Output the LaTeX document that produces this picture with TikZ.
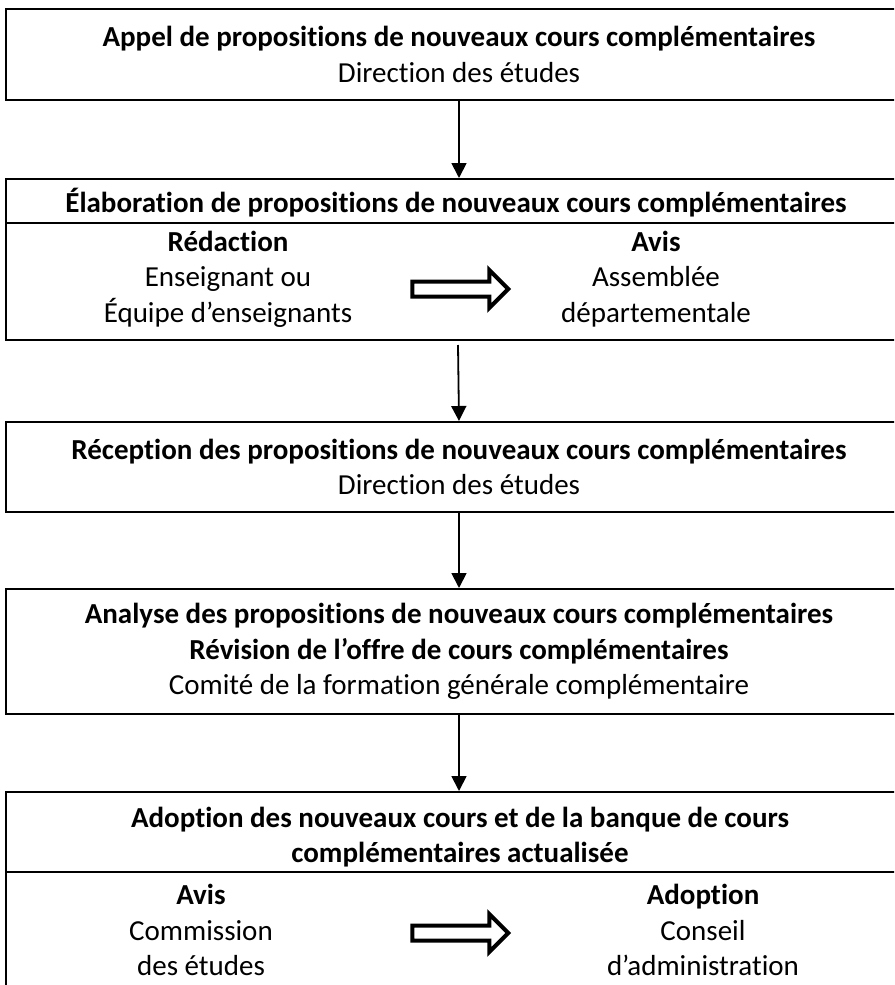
\documentclass[tikz,border=0pt]{standalone}
\usepackage{fontspec}
\setmainfont{Carlito}[Ligatures={TeX,NoCommon}]
\usetikzlibrary{arrows.meta,shapes.arrows}

\tikzset{txt/.style={font=\fontsize{14.5}{17.7}\selectfont,inner sep=0pt,align=center}}
\tikzset{stepbox/.style={draw,line width=1pt,minimum width=453pt,inner sep=0pt}}
\tikzset{flow/.style={line width=0.9pt,-{Triangle[length=7.5pt,width=7.5pt]}}}
\tikzset{fatarrow/.style={draw,line width=2pt,single arrow,inner xsep=0pt,inner ysep=2.75pt,
  minimum height=48pt,single arrow head extend=5.75pt}}
\newcommand{\passarrow}[2]{\node[fatarrow] (#1) at (#2) {}}

\begin{document}
\begin{tikzpicture}[x=0.5pt,y=-0.5pt]
  \useasboundingbox (0,0) rectangle (894,985);
  \clip (0,0) rectangle (894,985);

  % the five steps
  \node[stepbox,txt,minimum height=45.5pt] (appel) at (459,54.5)
    {\textbf{Appel de propositions de nouveaux cours complémentaires}\\Direction des études};
  \node[stepbox,minimum height=80.5pt] (elab) at (459,259.5) {};
  \node[stepbox,txt,minimum height=45pt] (recep) at (459,467)
    {\textbf{Réception des propositions de nouveaux cours complémentaires}\\Direction des études};
  \node[stepbox,txt,minimum height=62.5pt] (analyse) at (459,651.5)
    {\textbf{Analyse des propositions de nouveaux cours complémentaires}\\
     \textbf{Révision de l’offre de cours complémentaires}\\
     Comité de la formation générale complémentaire};
  \node[stepbox,minimum height=104pt] (adoption) at (459,896) {};

  % split boxes
  \coordinate (elabcut) at (0,223);
  \coordinate (adopcut) at (0,872);
  \draw[line width=1pt] (elab.west |- elabcut) -- (elab.east |- elabcut);
  \draw[line width=1pt] (adoption.west |- adopcut) -- (adoption.east |- adopcut);

  \node[txt] (elabtitle) at (456,203)
    {\textbf{Élaboration de propositions de nouveaux cours complémentaires}};
  \node[txt] (redac) at (228,279) {\textbf{Rédaction}\\Enseignant ou\\Équipe d’enseignants};
  \node[txt] (avisdep) at (656,279) {\textbf{Avis}\\Assemblée\\départementale};
  \passarrow{pass1}{456.5,289};

  \node[txt] (adoptitle) at (460,837)
    {\textbf{Adoption des nouveaux cours et de la banque de cours}\\
     \textbf{complémentaires actualisée}};
  \node[txt] (avisce) at (201,930) {\textbf{Avis}\\Commission\\des études};
  \node[txt] (adopca) at (703,930) {\textbf{Adoption}\\Conseil\\d’administration};
  \passarrow{pass2}{456.5,933};

  % flow
  \coordinate (elabfoot) at (458,345);
  \draw[flow] (appel) -- (elab);
  \draw[flow] (elabfoot) -- (recep.north);
  \draw[flow] (recep) -- (analyse);
  \draw[flow] (analyse) -- (adoption);
\end{tikzpicture}
\end{document}
